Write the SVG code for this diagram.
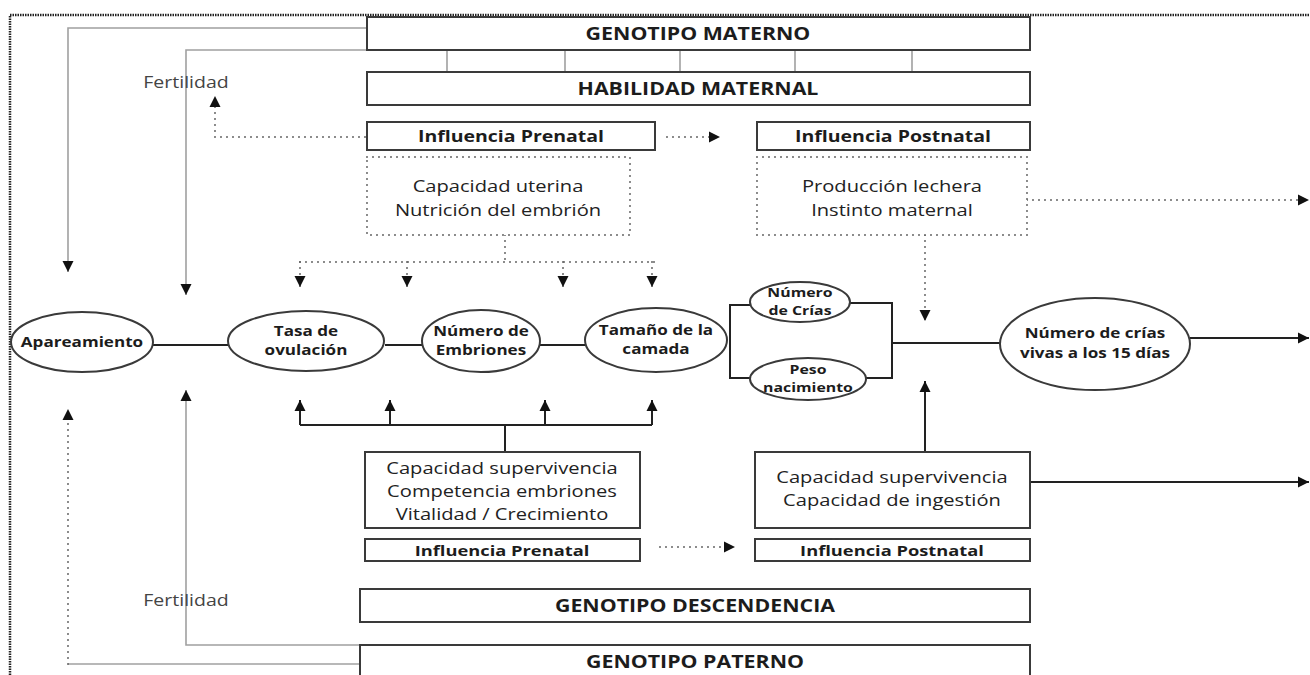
<svg xmlns="http://www.w3.org/2000/svg" width="1310" height="675" viewBox="0 0 1310 675">
<style>
.bg{fill:#ffffff}
.frame{fill:none;stroke:#222;stroke-width:2.5;stroke-dasharray:1.5 1}
.box{fill:#fff;stroke:#3a3a3a;stroke-width:2}
.dbox{fill:#fff;stroke:#666;stroke-width:2;stroke-linecap:round;stroke-dasharray:0 6}
.ell{fill:#fff;stroke:#3a3a3a;stroke-width:2}
.g{fill:none;stroke:#a0a0a0;stroke-width:1.6}
.d{fill:none;stroke:#666;stroke-width:2;stroke-linecap:round;stroke-dasharray:0 6}
.k{fill:none;stroke:#222;stroke-width:2}
.t{font-family:"Open Sans","Liberation Sans",sans-serif;fill:#1c1c1c;text-anchor:middle;transform-box:fill-box;transform-origin:center;transform:scaleX(1.22)}
.title{font-size:17.5px;font-weight:700}
.infl{font-size:16px;font-weight:700}
.infs{font-size:15px;font-weight:700}
.body{font-size:16.5px;font-weight:400;fill:#222}
.et{font-size:14px;font-weight:700}
.es{font-size:13px;font-weight:700}
.fert{font-size:16px;font-weight:400;fill:#444}
</style>
<defs>
<marker id="ah" viewBox="0 0 10 10" refX="10" refY="5" markerWidth="11" markerHeight="12" markerUnits="userSpaceOnUse" orient="auto">
<path d="M0,0 L10,5 L0,10 z" fill="#111"/>
</marker>
</defs>
<rect class="bg" x="0" y="0" width="1310" height="675"/>
<path class="frame" d="M10,675 V15 H1310"/>

<g id="connectors">
<path class="g" d="M367,28 H68 V272" marker-end="url(#ah)"/>
<path class="g" d="M367,50 H186 V295" marker-end="url(#ah)"/>
<path class="g" d="M360,645 H186 V390" marker-end="url(#ah)"/>
<path class="g" d="M447,50 V72 M565,50 V72 M680,50 V72 M795,50 V72 M912,50 V72"/>
<path class="g" d="M360,664 H68"/>
<path class="d" d="M68,664 V409" marker-end="url(#ah)"/>
<path class="d" d="M365,137 H215 V96" marker-end="url(#ah)"/>
<path class="d" d="M667,137 H720" marker-end="url(#ah)"/>
<path class="d" d="M505,235 V262 M300,262 H655"/>
<path class="d" d="M300,262 V287" marker-end="url(#ah)"/>
<path class="d" d="M407,262 V287" marker-end="url(#ah)"/>
<path class="d" d="M563,262 V287" marker-end="url(#ah)"/>
<path class="d" d="M652,262 V287" marker-end="url(#ah)"/>
<path class="d" d="M925,235 V321" marker-end="url(#ah)"/>
<path class="d" d="M1027,200 H1309" marker-end="url(#ah)"/>
<path class="d" d="M660,547 H735" marker-end="url(#ah)"/>
<path class="k" d="M153,345 H228 M385,345 H422 M540,345 H585"/>
<path class="k" d="M752,305 H730 V378 H752"/>
<path class="k" d="M850,303 H892 V378 H866 M892,343 H1000"/>
<path class="k" d="M1190,338 H1309" marker-end="url(#ah)"/>
<path class="k" d="M505,452 V425 M300,425 H652"/>
<path class="k" d="M300,425 V400" marker-end="url(#ah)"/>
<path class="k" d="M390,425 V400" marker-end="url(#ah)"/>
<path class="k" d="M545,425 V400" marker-end="url(#ah)"/>
<path class="k" d="M652,425 V400" marker-end="url(#ah)"/>
<path class="k" d="M925,452 V381" marker-end="url(#ah)"/>
<path class="k" d="M1030,482 H1309" marker-end="url(#ah)"/>
</g>

<g id="fertilidad-top"><text class="t fert" x="186" y="88">Fertilidad</text></g>
<g id="fertilidad-bottom"><text class="t fert" x="186" y="606">Fertilidad</text></g>

<g id="genotipo-materno">
<rect class="box" x="367" y="17" width="663" height="33"/>
<text class="t title" x="698" y="40">GENOTIPO MATERNO</text>
</g>
<g id="habilidad-maternal">
<rect class="box" x="367" y="72" width="663" height="33"/>
<text class="t title" x="698" y="95">HABILIDAD MATERNAL</text>
</g>
<g id="influencia-prenatal-top">
<rect class="box" x="367" y="122" width="288" height="28"/>
<text class="t infl" x="511" y="142">Influencia Prenatal</text>
</g>
<g id="influencia-postnatal-top">
<rect class="box" x="757" y="122" width="273" height="28"/>
<text class="t infl" x="893" y="142">Influencia Postnatal</text>
</g>
<g id="capacidad-uterina">
<rect class="dbox" x="367" y="157" width="263" height="78"/>
<text class="t body" x="498" y="192">Capacidad uterina</text>
<text class="t body" x="498" y="216">Nutrición del embrión</text>
</g>
<g id="produccion-lechera">
<rect class="dbox" x="757" y="157" width="270" height="78"/>
<text class="t body" x="892" y="192">Producción lechera</text>
<text class="t body" x="892" y="216">Instinto maternal</text>
</g>

<g id="apareamiento">
<ellipse class="ell" cx="82" cy="342" rx="71" ry="30"/>
<text class="t et" x="82" y="347">Apareamiento</text>
</g>
<g id="tasa-ovulacion">
<ellipse class="ell" cx="306" cy="341" rx="78" ry="30"/>
<text class="t et" x="306" y="336">Tasa de</text>
<text class="t et" x="306" y="355">ovulación</text>
</g>
<g id="numero-embriones">
<ellipse class="ell" cx="481" cy="341" rx="59" ry="31"/>
<text class="t et" x="481" y="336">Número de</text>
<text class="t et" x="481" y="355">Embriones</text>
</g>
<g id="tamano-camada">
<ellipse class="ell" cx="656" cy="340" rx="71" ry="32"/>
<text class="t et" x="656" y="335">Tamaño de la</text>
<text class="t et" x="656" y="354">camada</text>
</g>
<g id="numero-crias">
<ellipse class="ell" cx="800" cy="302" rx="50" ry="20"/>
<text class="t es" x="800" y="297">Número</text>
<text class="t es" x="800" y="315">de Crías</text>
</g>
<g id="peso-nacimiento">
<ellipse class="ell" cx="808" cy="379" rx="58" ry="21"/>
<text class="t es" x="808" y="374">Peso</text>
<text class="t es" x="808" y="392">nacimiento</text>
</g>
<g id="crias-vivas">
<ellipse class="ell" cx="1095" cy="344" rx="95" ry="46"/>
<text class="t et" x="1095" y="338">Número de crías</text>
<text class="t et" x="1095" y="358">vivas a los 15 días</text>
</g>

<g id="supervivencia-prenatal">
<rect class="box" x="365" y="452" width="275" height="76"/>
<text class="t body" x="502" y="474">Capacidad supervivencia</text>
<text class="t body" x="502" y="497">Competencia embriones</text>
<text class="t body" x="502" y="520">Vitalidad / Crecimiento</text>
</g>
<g id="supervivencia-postnatal">
<rect class="box" x="755" y="452" width="275" height="76"/>
<text class="t body" x="892" y="483">Capacidad supervivencia</text>
<text class="t body" x="892" y="506">Capacidad de ingestión</text>
</g>
<g id="influencia-prenatal-bottom">
<rect class="box" x="365" y="539" width="275" height="22"/>
<text class="t infs" x="502" y="556">Influencia Prenatal</text>
</g>
<g id="influencia-postnatal-bottom">
<rect class="box" x="755" y="539" width="275" height="22"/>
<text class="t infs" x="892" y="556">Influencia Postnatal</text>
</g>
<g id="genotipo-descendencia">
<rect class="box" x="360" y="589" width="670" height="33"/>
<text class="t title" x="695" y="612">GENOTIPO DESCENDENCIA</text>
</g>
<g id="genotipo-paterno">
<rect class="box" x="360" y="645" width="670" height="45"/>
<text class="t title" x="695" y="668">GENOTIPO PATERNO</text>
</g>
</svg>
